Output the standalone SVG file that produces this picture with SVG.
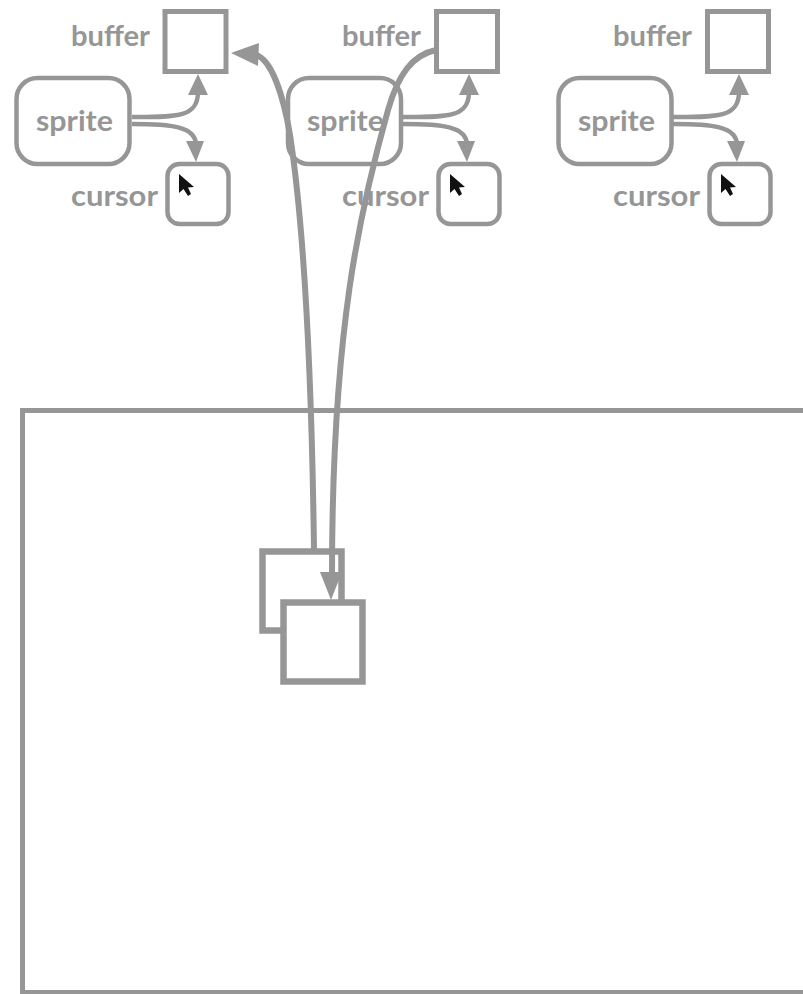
<svg xmlns="http://www.w3.org/2000/svg" width="803" height="994" viewBox="0 0 803 994">
<style>
.b{fill:#fff;stroke:#969696;stroke-width:5}
.r{fill:none;stroke:#969696;stroke-width:4.5}
.s{fill:#fff;stroke:#969696;stroke-width:6.500}
.t{font-family:"Lato","Noto Sans",sans-serif;font-weight:700;font-size:29px;fill:#969696}
.c{fill:none;stroke:#969696;stroke-width:4.5}
.l{fill:none;stroke:#969696;stroke-width:6}
.h{fill:#969696}
</style>
<defs>
<g id="ptr"><path d="M0 0L0 19L4.500 15L9 22L12 20L9 13.500L15 13Z" fill="#111"/></g>
</defs>
<rect width="803" height="994" fill="#fff"/>
<g id="screen"><rect x="22.500" y="410.500" width="800" height="582" fill="none" stroke="#969696" stroke-width="5"/></g>
<g id="overlay-back"><rect class="s" x="262.500" y="551.500" width="79" height="79"/></g>
<g id="unit1">
<g id="buffer1"><rect class="b" x="165" y="11.500" width="61" height="60"/><text class="t" x="71" y="46" textLength="79" lengthAdjust="spacingAndGlyphs">buffer</text></g>
<g id="sprite1"><rect class="r" x="16.500" y="78" width="113" height="86" rx="21"/><text class="t" x="36" y="131" textLength="77" lengthAdjust="spacingAndGlyphs">sprite</text></g>
<g id="cursor1"><rect class="r" x="167.500" y="164" width="61" height="60" rx="12"/><text class="t" x="71" y="206" textLength="87" lengthAdjust="spacingAndGlyphs">cursor</text><use href="#ptr" x="179" y="174"/></g>
</g>
<g id="unit2">
<g id="buffer2"><rect class="b" x="436.500" y="11.500" width="61" height="60"/><text class="t" x="342" y="46" textLength="79" lengthAdjust="spacingAndGlyphs">buffer</text></g>
<g id="sprite2"><rect class="r" x="288" y="78" width="113" height="86" rx="21"/><text class="t" x="307" y="131" textLength="77" lengthAdjust="spacingAndGlyphs">sprite</text></g>
<g id="cursor2"><rect class="r" x="438.500" y="164" width="61" height="60" rx="12"/><text class="t" x="342" y="206" textLength="87" lengthAdjust="spacingAndGlyphs">cursor</text><use href="#ptr" x="450" y="174"/></g>
</g>
<g id="unit3">
<g id="buffer3"><rect class="b" x="707.500" y="11.500" width="61" height="60"/><text class="t" x="613" y="46" textLength="79" lengthAdjust="spacingAndGlyphs">buffer</text></g>
<g id="sprite3"><rect class="r" x="558.500" y="78" width="113" height="86" rx="21"/><text class="t" x="578" y="131" textLength="77" lengthAdjust="spacingAndGlyphs">sprite</text></g>
<g id="cursor3"><rect class="r" x="709.500" y="164" width="61" height="60" rx="12"/><text class="t" x="613" y="206" textLength="87" lengthAdjust="spacingAndGlyphs">cursor</text><use href="#ptr" x="721" y="174"/></g>
</g>
<g id="overlay-front"><rect class="s" x="283.500" y="602.500" width="79" height="79"/></g>
<g id="connectors">
<g id="c1"><path class="c" d="M132 117C175 117 198 118 198 92"/><path class="h" d="M198 74L208 95L188 95Z"/><path class="c" d="M132 124C170 124 196 126 196 145"/><path class="h" d="M196 162L186 141L204 141Z"/></g>
<g id="c2"><path class="c" d="M403 117C446 117 469 118 469 92"/><path class="h" d="M469 74L479 95L459 95Z"/><path class="c" d="M403 124C441 124 467 126 467 145"/><path class="h" d="M467 162L457 141L475 141Z"/></g>
<g id="c3"><path class="c" d="M673 117C716 117 739 118 739 92"/><path class="h" d="M739 74L749 95L729 95Z"/><path class="c" d="M673 124C711 124 737 126 737 145"/><path class="h" d="M737 162L727 141L745 141Z"/></g>
<path class="l" d="M314 549C312 400 306 240 290 135C284 100 272 55 252 54"/>
<path class="h" d="M231 53L259 43L258 66Z"/>
<path class="l" d="M436 50C412 55 398 75 388 110C360 210 332 330 332 575"/>
<path class="h" d="M331 600L320 572L342 572Z"/>
</g>
</svg>
